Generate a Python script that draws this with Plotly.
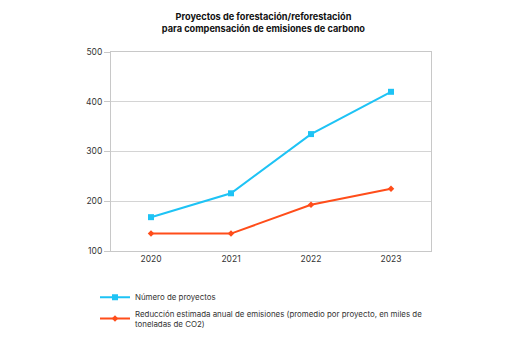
import plotly.graph_objects as go

years = ["2020", "2021", "2022", "2023"]
proyectos = [168, 216, 335, 420]
reduccion = [135, 135, 193, 225]
y_ticks = [100, 200, 300, 400, 500]

name1 = "Número de proyectos"
name2 = "Reducción estimada anual de emisiones (promedio por proyecto, en miles de<br>toneladas de CO2)"

fig = go.Figure()
fig.add_trace(go.Scatter(x=years, y=proyectos, name=name1, mode="lines+markers",
                         line=dict(color="#1EC3F5", width=2),
                         marker=dict(symbol="square", size=6, color="#1EC3F5")))
fig.add_trace(go.Scatter(x=years, y=reduccion, name=name2, mode="lines+markers",
                         line=dict(color="#FF4D1A", width=2),
                         marker=dict(symbol="diamond", size=5, color="#FF4D1A")))

fig.update_layout(
    width=529, height=353,
    margin=dict(l=111, r=98, t=52, b=102),
    paper_bgcolor="white", plot_bgcolor="white",
    font=dict(family="Inter, Roboto, sans-serif", size=8.5, color="#333333"),
    title=dict(text="<b>Proyectos de forestación/reforestación<br>para compensación de emisiones de carbono</b>",
               x=0.498, xanchor="center", y=0.943, yanchor="top",
               font=dict(size=9.2, color="#111111")),
    showlegend=True,
    legend=dict(x=-0.05, xanchor="left", y=-0.16, yanchor="top", orientation="v",
                font=dict(size=7.9, color="#333333"), tracegroupgap=7, itemwidth=30),
    xaxis=dict(type="category", range=[-0.5, 3.5], showline=True, linecolor="#c8c8c8",
               mirror=True, showgrid=False, ticks="", tickfont=dict(size=8.5),
               minor=dict(ticks="outside", ticklen=4, tickcolor="#c8c8c8")),
    yaxis=dict(range=[100, 500], tickvals=y_ticks, showline=True, linecolor="#c8c8c8",
               mirror=True, gridcolor="#d4d4d4", ticks="outside", ticklen=6,
               tickcolor="#c8c8c8", tickfont=dict(size=8.5), zeroline=False),
)

fig.write_html("out.html")
